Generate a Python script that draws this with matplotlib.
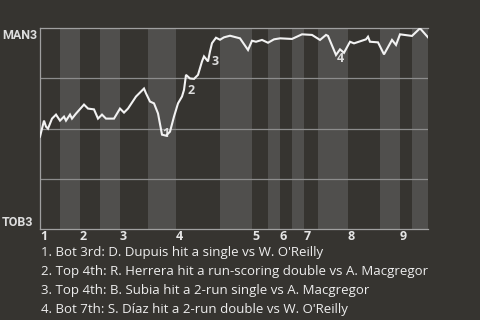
import matplotlib.pyplot as plt

# play index (x) and MAN win probability in percent
plays = [0, 2, 3, 4, 6, 8, 10, 12, 13, 15, 16, 18, 22, 24, 27, 29, 31, 33, 37, 40,
         42, 44, 48, 52, 53, 55, 57, 59, 61, 63, 65, 67, 69, 71, 72, 73, 75, 77, 79, 81,
         82, 84, 85, 86, 88, 90, 92, 95, 100, 104, 106, 108, 111, 114, 117, 120, 126, 131, 136, 140,
         143, 144, 148, 150, 152, 155, 157, 163, 164, 165, 169, 172, 176, 178, 180, 186, 190, 194]
win_prob = [46, 54, 51, 50, 55, 57, 54, 56, 54, 57, 55, 57.5, 62, 60, 59.6, 55, 57, 55, 55, 60,
            58, 60, 66, 70, 67.6, 63.5, 62.6, 57.6, 47, 46.5, 48.5, 56, 62.6, 66, 69.3, 76.8, 75, 74.8, 76.8, 83.5,
            86, 83.5, 88.5, 92.6, 95.3, 94.3, 95.5, 96.3, 95, 89.2, 93.8, 93.3, 94.2, 92.8, 94.5, 95, 94.7, 97, 96.7, 94.2,
            96.7, 96.2, 86.7, 89.5, 87.8, 93.3, 92.5, 94.5, 95.8, 93.3, 93, 87, 94.2, 91.7, 97, 96.2, 100, 95.5]

# half-inning boundaries (play index): top1, bot1, top2, ...
half_starts = [0, 10, 20, 30, 40, 54, 68, 90, 106, 114, 120, 126, 132, 139, 154, 170, 180, 186]
last_play = 194
innings = ['1', '2', '3', '4', '5', '6', '7', '8', '9']

# key events: label, text x, text y
event_labels = ['1', '2', '3', '4']
event_x = [63, 75.5, 87.5, 150]
event_y = [47.6, 69, 83.6, 85]
notes = [
    "1. Bot 3rd: D. Dupuis hit a single vs W. O'Reilly",
    "2. Top 4th: R. Herrera hit a run-scoring double vs A. Macgregor",
    "3. Top 4th: B. Subia hit a 2-run single vs A. Macgregor",
    "4. Bot 7th: S. D\u00edaz hit a 2-run double vs W. O'Reilly",
]

bg = '#363430'
band = '#504f4d'
plt.rcParams['font.family'] = ['Open Sans', 'DejaVu Sans']

fig = plt.figure(figsize=(4.8, 3.2), dpi=100, facecolor=bg)
ax = fig.add_axes([40 / 480, 1 - 229 / 320, 388 / 480, 200.7 / 320])
ax.set_facecolor(bg)

ends = half_starts[1:] + [last_play]
for i in range(1, len(half_starts), 2):
    ax.axvspan(half_starts[i], ends[i], color=band, lw=0, zorder=0)

for g in [25, 50, 75]:
    ax.axhline(g, color='#8c8c8c', lw=0.9, zorder=1)

ax.plot(plays, win_prob, color='#f2f2f2', lw=1.5, zorder=4, solid_joinstyle='miter')

for lab, x, y in zip(event_labels, event_x, event_y):
    ax.text(x, y, lab, color='#dddddd', fontsize=9, fontweight='bold',
            ha='center', va='center', zorder=3)

ax.set_xlim(0, last_play)
ax.set_ylim(0, 100)
ax.set_yticks([])
ax.set_xticks(half_starts[::2])
ax.set_xticklabels(innings, ha='left', color='#e6e6e6', fontsize=9, fontweight='bold')
ax.tick_params(axis='x', length=0, pad=1)

for s in ['left', 'bottom', 'top']:
    ax.spines[s].set_color('#a0a0a0')
    ax.spines[s].set_linewidth(0.9)
ax.spines['right'].set_visible(False)

team_font = ['Roboto', 'DejaVu Sans']
ax.text(-0.008, 0.965, 'MAN3', transform=ax.transAxes, ha='right', va='center',
        color='#dddddd', fontsize=9, fontweight='bold', family=team_font)
ax.text(-0.018, 0.03, 'TOB3', transform=ax.transAxes, ha='right', va='center',
        color='#dddddd', fontsize=9, fontweight='bold', family=team_font)

for i, t in enumerate(notes):
    fig.text(41 / 480, 1 - (252.5 + 19 * i) / 320, t, color='#eeeeee', fontsize=9.5,
             ha='left', va='center')

fig.savefig('out.png', dpi=100, facecolor=bg)
